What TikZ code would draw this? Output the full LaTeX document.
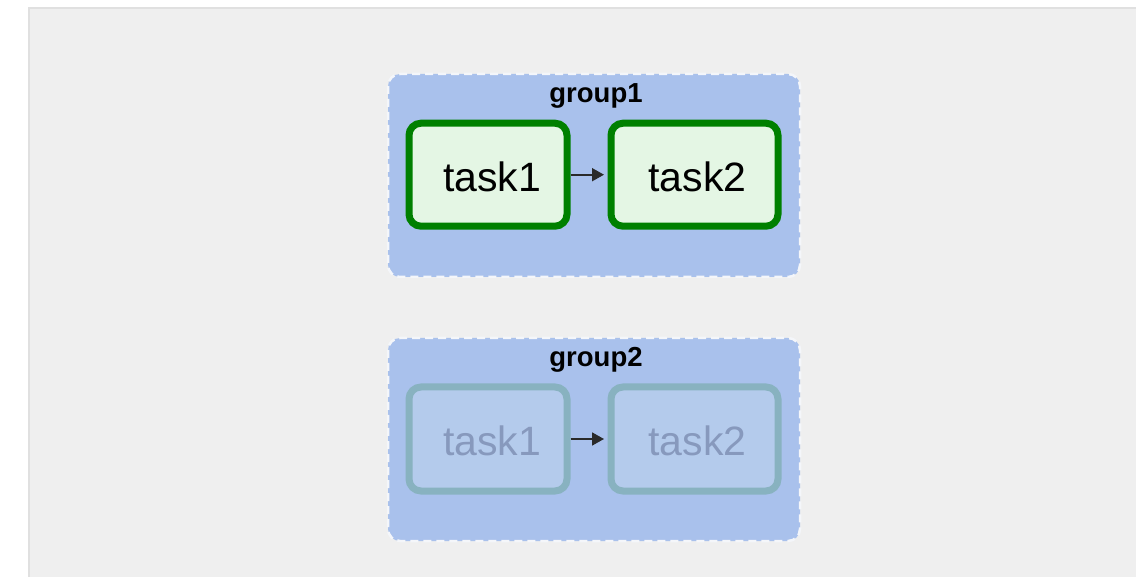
\documentclass[tikz,border=0pt]{standalone}
\usepackage{fontspec}
\setmainfont{Liberation Sans}
\usetikzlibrary{arrows.meta}
\definecolor{panelbg}{HTML}{EFEFEF}
\definecolor{panelline}{HTML}{E0E0E0}
\definecolor{groupbg}{HTML}{A9C1EC}
\definecolor{groupline}{HTML}{F4F6FA}
\definecolor{okline}{HTML}{008000}
\definecolor{okfill}{HTML}{E4F6E4}
\definecolor{idleline}{HTML}{88B2C0}
\definecolor{idlefill}{HTML}{B4CBEC}
\definecolor{idletext}{HTML}{8799BD}
\definecolor{edgecol}{HTML}{2A2A2A}
\tikzset{
  groupbox/.style={draw=groupline, fill=groupbg, line width=2.5pt,
    dash pattern=on 8pt off 5pt, rounded corners=12pt},
  grouptitle/.style={font=\fontsize{27.5}{30}\selectfont\bfseries, text=black, anchor=base},
  tasklabel/.style={font=\fontsize{41}{46}\selectfont},
  taskbox/.style={rectangle, rounded corners=12pt, line width=7pt, inner sep=0pt},
  donetask/.style={taskbox, draw=okline, fill=okfill},
  idletask/.style={taskbox, draw=idleline, fill=idlefill},
  flow/.style={draw=edgecol, line width=1.8pt,
    -{Triangle[length=12pt,width=13pt]}, shorten >=3.5pt}
}
\begin{document}
\begin{tikzpicture}[x=1pt,y=-1pt]
\useasboundingbox (0,0) rectangle (1136,577);
% page background and panel
\fill[white] (0,0) rectangle (1136,577);
\fill[panelbg] (28,7) rectangle (1136,577);
\draw[panelline, line width=2pt] (29,577) -- (29,8) -- (1136,8);

% first group
\draw[groupbox] (388,74) rectangle (800,277);
\node[grouptitle] (g1title) at (596,103) {group1};
\node[donetask, minimum width=158pt, minimum height=103pt] (a1) at (488,174.7) {};
\node[tasklabel, text=black] (a1t) at (492,177) {task1};
\node[donetask, minimum width=167pt, minimum height=103pt] (a2) at (694.5,174.7) {};
\node[tasklabel, text=black] (a2t) at (697.5,177) {task2};
\draw[flow] (a1.east) -- (a2.west);

% second group
\draw[groupbox] (388,338) rectangle (800,541);
\node[grouptitle] (g2title) at (596,367) {group2};
\node[idletask, minimum width=158pt, minimum height=104pt] (b1) at (488,439) {};
\node[tasklabel, text=idletext] (b1t) at (492,441) {task1};
\node[idletask, minimum width=167pt, minimum height=104pt] (b2) at (694.5,439) {};
\node[tasklabel, text=idletext] (b2t) at (697.5,441) {task2};
\draw[flow] (b1.east) -- (b2.west);
\end{tikzpicture}
\end{document}
